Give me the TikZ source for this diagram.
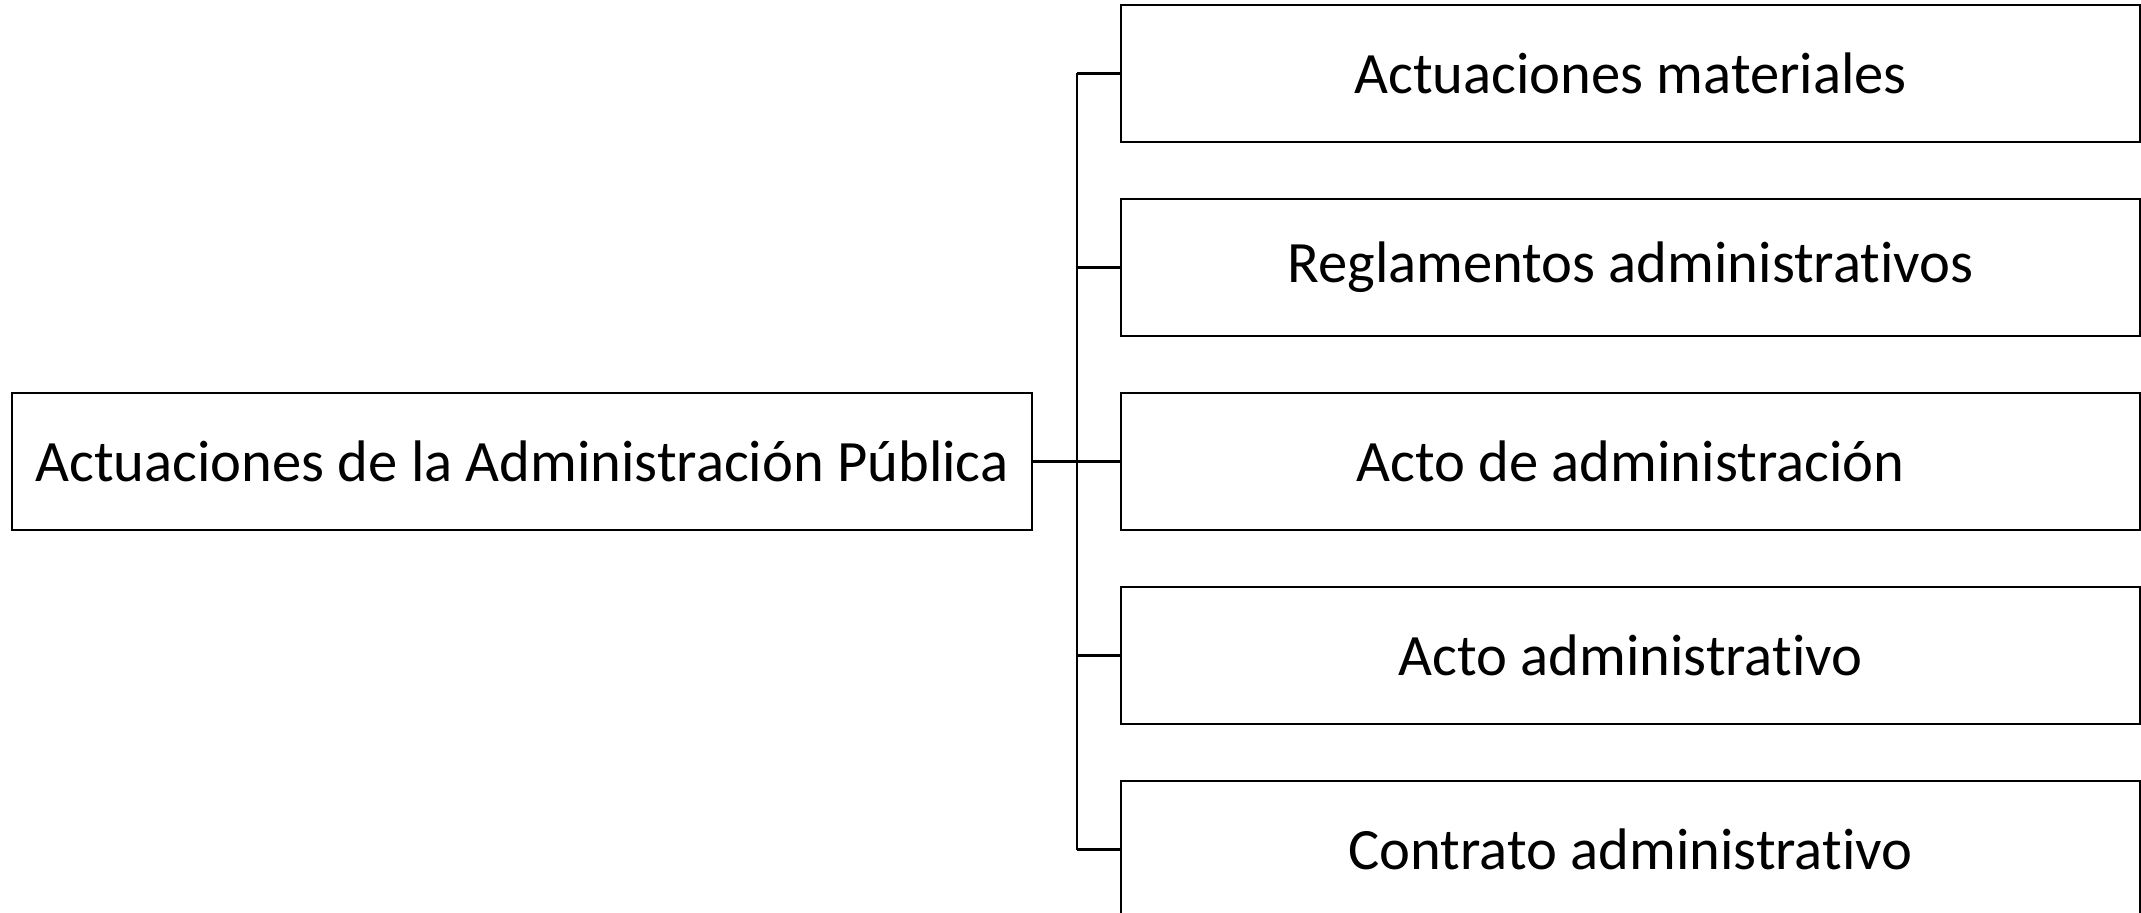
\documentclass[tikz,border=0pt]{standalone}
\usepackage{fontspec}
\setmainfont{Carlito}[Ligatures=NoCommon]
\usetikzlibrary{positioning,calc}

\tikzset{
    caja/.style={draw=black, line width=1.4pt, minimum height=68.5pt, inner sep=0pt,
        font=\fontsize{29.3}{35}\selectfont},
    enlace/.style={draw=black, line width=1.2pt}
}

\begin{document}
\begin{tikzpicture}[x=0.5pt, y=-0.5pt]
    \useasboundingbox (0,0) rectangle (2141,913);
    % main box
    \node[caja, minimum width=510pt] (act) at (522,461.5) {Actuaciones de la Administración Pública};
    % the five kinds
    \foreach \txt [count=\i] in {Actuaciones materiales, Reglamentos administrativos,
        Acto de administración, Acto administrativo, Contrato administrativo} {
        \node[caja, minimum width=509.5pt] (k\i) at (1630.5,{73.5+194*(\i-1)}) {\txt};
    }
    % bracket
    \coordinate (top) at (1077,73.5);
    \coordinate (bot) at (1077,849.5);
    \draw[enlace] (top) -- (bot);
    \draw[enlace] (act.east) -- (act.east -| top);
    \foreach \i in {1,...,5} {
        \draw[enlace] (k\i.west -| top) -- (k\i.west);
    }
\end{tikzpicture}
\end{document}
